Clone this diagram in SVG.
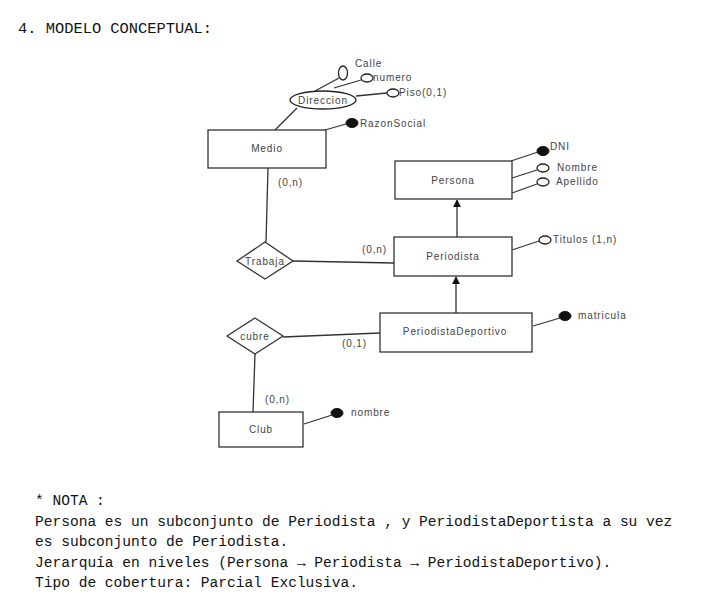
<svg xmlns="http://www.w3.org/2000/svg" width="715" height="616" viewBox="0 0 715 616">
<defs>
<marker id="arr" viewBox="0 0 10 10" refX="9" refY="5" markerWidth="6" markerHeight="7" orient="auto"><path d="M0,0 L10,5 L0,10 z" fill="#111"/></marker>
</defs>
<style>
.ent{fill:#fff;stroke:#333;stroke-width:1.3}
.ln{stroke:#333;stroke-width:1.3;fill:none}
.lb{font-family:"Liberation Sans",Arial,sans-serif;font-size:10px;letter-spacing:0.9px;fill:#444}
.lc{font-family:"Liberation Sans",Arial,sans-serif;font-size:10px;letter-spacing:0.9px;fill:#444;text-anchor:middle}
.ho{fill:#fff;stroke:#222;stroke-width:1.3}
.fi{fill:#111;stroke:#111}
.mono{font-family:"Liberation Mono","DejaVu Sans Mono",monospace;font-size:14.55px;fill:#111}
</style>
<rect width="715" height="616" fill="#fff"/>
<text x="18" y="33" class="mono" style="font-size:15.4px">4. MODELO CONCEPTUAL:</text>

<g id="connectors">
<path class="ln" d="M275,130 L297,108"/>
<path class="ln" d="M315,91 L339,78"/>
<path class="ln" d="M334,88 L361,80"/>
<path class="ln" d="M356,96 L387,93"/>
<path class="ln" d="M325,130 L346,124"/>
<path class="ln" d="M511,161 L538,152"/>
<path class="ln" d="M512,178 L537,170"/>
<path class="ln" d="M512,193 L537,184"/>
<path class="ln" d="M512,250 L539,241"/>
<path class="ln" d="M268,168 L266,242"/>
<path class="ln" d="M293,261 L394,263"/>
<path class="ln" d="M457,237 L457,200" marker-end="url(#arr)"/>
<path class="ln" d="M456,313 L456,277" marker-end="url(#arr)"/>
<path class="ln" d="M533,326 L560,318"/>
<path class="ln" d="M283,337 L380,333"/>
<path class="ln" d="M255,354 L253,412"/>
<path class="ln" d="M304,424 L332,415"/>
<text x="278" y="186" class="lb">(0,n)</text>
<text x="362" y="253" class="lb">(0,n)</text>
<text x="342" y="347" class="lb">(0,1)</text>
<text x="265" y="403" class="lb">(0,n)</text>
</g>

<g id="Direccion">
<ellipse cx="323" cy="100" rx="33" ry="9" class="ho"/>
<text x="323" y="103.5" class="lc">Direccion</text>
</g>
<g id="attr-Calle">
<ellipse cx="343" cy="73" rx="4.5" ry="7" class="ho"/>
<text x="355" y="67" class="lb">Calle</text>
</g>
<g id="attr-numero">
<ellipse cx="367" cy="78" rx="6" ry="4" class="ho"/>
<text x="373" y="81" class="lb">numero</text>
</g>
<g id="attr-Piso">
<ellipse cx="393" cy="93" rx="6" ry="4" class="ho"/>
<text x="399" y="96" class="lb">Piso(0,1)</text>
</g>
<g id="attr-RazonSocial">
<ellipse cx="352" cy="123" rx="6" ry="4.5" class="fi"/>
<text x="360" y="127" class="lb">RazonSocial</text>
</g>

<g id="Medio">
<rect x="208" y="130" width="118" height="38" class="ent"/>
<text x="267" y="152" class="lc">Medio</text>
</g>

<g id="Persona">
<rect x="395" y="161" width="117" height="38" class="ent"/>
<text x="453" y="184" class="lc">Persona</text>
</g>
<g id="attr-DNI">
<ellipse cx="543" cy="151" rx="6" ry="4.5" class="fi"/>
<text x="550" y="150" class="lb">DNI</text>
</g>
<g id="attr-Nombre">
<ellipse cx="543" cy="168" rx="6" ry="4" class="ho"/>
<text x="557" y="171" class="lb">Nombre</text>
</g>
<g id="attr-Apellido">
<ellipse cx="543" cy="182" rx="6" ry="4" class="ho"/>
<text x="556" y="185" class="lb">Apellido</text>
</g>

<g id="Periodista">
<rect x="394" y="237" width="118" height="39" class="ent"/>
<text x="453" y="260" class="lc">Periodista</text>
</g>
<g id="attr-Titulos">
<ellipse cx="545" cy="240" rx="6" ry="4" class="ho"/>
<text x="553" y="243" class="lb">Titulos (1,n)</text>
</g>

<g id="Trabaja">
<polygon points="265,242 293,261 265,279 237,261" class="ent"/>
<text x="265" y="264.5" class="lc">Trabaja</text>
</g>

<g id="PeriodistaDeportivo">
<rect x="380" y="313" width="152" height="39" class="ent"/>
<text x="455" y="335" class="lc">PeriodistaDeportivo</text>
</g>
<g id="attr-matricula">
<ellipse cx="565" cy="316" rx="6" ry="4.5" class="fi"/>
<text x="578" y="319" class="lb">matricula</text>
</g>

<g id="cubre">
<polygon points="255,318 283,336 255,354 227,336" class="ent"/>
<text x="255" y="339.5" class="lc">cubre</text>
</g>

<g id="Club">
<rect x="219" y="412" width="84" height="35" class="ent"/>
<text x="261" y="433" class="lc">Club</text>
</g>
<g id="attr-nombre">
<ellipse cx="337" cy="413" rx="6" ry="4.5" class="fi"/>
<text x="351" y="416" class="lb">nombre</text>
</g>

<g id="nota">
<text x="35" y="505" class="mono">* NOTA :</text>
<text x="35" y="526" class="mono">Persona es un subconjunto de Periodista , y PeriodistaDeportista a su vez</text>
<text x="35" y="546" class="mono">es subconjunto de Periodista.</text>
<text x="35" y="567" class="mono">Jerarquía en niveles (Persona → Periodista → PeriodistaDeportivo).</text>
<text x="35" y="587" class="mono">Tipo de cobertura: Parcial Exclusiva.</text>
</g>
</svg>
